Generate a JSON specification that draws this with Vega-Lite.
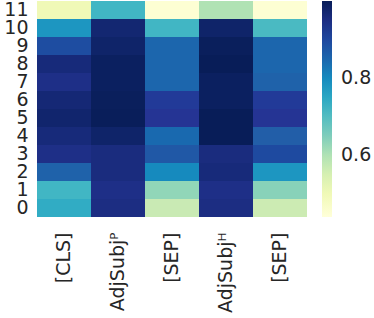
{
  "$schema": "https://vega.github.io/schema/vega-lite/v6.json",
  "width": 270,
  "height": 216,
  "padding": {"left": 3, "top": 0, "right": 0, "bottom": 0},
  "background": "white",
  "config": {"view": {"stroke": null}, "font": "DejaVu Sans"},
  "data": {"values": [
    {"layer": 11, "token": "a", "v": 0.50}, {"layer": 11, "token": "b", "v": 0.72}, {"layer": 11, "token": "c", "v": 0.45}, {"layer": 11, "token": "d", "v": 0.60}, {"layer": 11, "token": "e", "v": 0.45},
    {"layer": 10, "token": "a", "v": 0.78}, {"layer": 10, "token": "b", "v": 0.97}, {"layer": 10, "token": "c", "v": 0.72}, {"layer": 10, "token": "d", "v": 0.98}, {"layer": 10, "token": "e", "v": 0.71},
    {"layer": 9, "token": "a", "v": 0.89}, {"layer": 9, "token": "b", "v": 0.98}, {"layer": 9, "token": "c", "v": 0.85}, {"layer": 9, "token": "d", "v": 0.995}, {"layer": 9, "token": "e", "v": 0.85},
    {"layer": 8, "token": "a", "v": 0.96}, {"layer": 8, "token": "b", "v": 0.99}, {"layer": 8, "token": "c", "v": 0.85}, {"layer": 8, "token": "d", "v": 1.0}, {"layer": 8, "token": "e", "v": 0.85},
    {"layer": 7, "token": "a", "v": 0.945}, {"layer": 7, "token": "b", "v": 0.99}, {"layer": 7, "token": "c", "v": 0.85}, {"layer": 7, "token": "d", "v": 0.99}, {"layer": 7, "token": "e", "v": 0.855},
    {"layer": 6, "token": "a", "v": 0.965}, {"layer": 6, "token": "b", "v": 0.995}, {"layer": 6, "token": "c", "v": 0.92}, {"layer": 6, "token": "d", "v": 0.99}, {"layer": 6, "token": "e", "v": 0.92},
    {"layer": 5, "token": "a", "v": 0.975}, {"layer": 5, "token": "b", "v": 0.998}, {"layer": 5, "token": "c", "v": 0.93}, {"layer": 5, "token": "d", "v": 1.0}, {"layer": 5, "token": "e", "v": 0.93},
    {"layer": 4, "token": "a", "v": 0.96}, {"layer": 4, "token": "b", "v": 0.98}, {"layer": 4, "token": "c", "v": 0.845}, {"layer": 4, "token": "d", "v": 1.0}, {"layer": 4, "token": "e", "v": 0.86},
    {"layer": 3, "token": "a", "v": 0.945}, {"layer": 3, "token": "b", "v": 0.955}, {"layer": 3, "token": "c", "v": 0.87}, {"layer": 3, "token": "d", "v": 0.955}, {"layer": 3, "token": "e", "v": 0.895},
    {"layer": 2, "token": "a", "v": 0.855}, {"layer": 2, "token": "b", "v": 0.955}, {"layer": 2, "token": "c", "v": 0.80}, {"layer": 2, "token": "d", "v": 0.96}, {"layer": 2, "token": "e", "v": 0.78},
    {"layer": 1, "token": "a", "v": 0.72}, {"layer": 1, "token": "b", "v": 0.945}, {"layer": 1, "token": "c", "v": 0.63}, {"layer": 1, "token": "d", "v": 0.945}, {"layer": 1, "token": "e", "v": 0.64},
    {"layer": 0, "token": "a", "v": 0.74}, {"layer": 0, "token": "b", "v": 0.95}, {"layer": 0, "token": "c", "v": 0.575}, {"layer": 0, "token": "d", "v": 0.95}, {"layer": 0, "token": "e", "v": 0.57}
  ]},
  "mark": {"type": "rect"},
  "encoding": {
    "x": {
      "field": "token", "type": "nominal", "sort": ["a", "b", "c", "d", "e"],
      "title": null,
      "axis": {
        "domain": false, "ticks": false, "labelAngle": -90, "labelFontSize": 19, "labelColor": "#262626",
        "labelPadding": 15, "labelAlign": "right", "labelBaseline": "middle",
        "labelExpr": "datum.value == 'a' ? '[CLS]' : datum.value == 'b' ? 'AdjSubjᴾ' : datum.value == 'd' ? 'AdjSubjᴴ' : '[SEP]'"
      },
      "scale": {"paddingInner": 0, "paddingOuter": 0}
    },
    "y": {
      "field": "layer", "type": "ordinal", "sort": "descending", "title": null,
      "axis": {"domain": false, "ticks": false, "labelAngle": 0, "labelFontSize": 19, "labelColor": "#262626", "labelPadding": 9, "minExtent": 33, "maxExtent": 33, "labelOverlap": false},
      "scale": {"paddingInner": 0, "paddingOuter": 0}
    },
    "color": {
      "field": "v", "type": "quantitative",
      "scale": {
        "domain": [0.44, 0.51, 0.58, 0.65, 0.72, 0.79, 0.86, 0.93, 1.0],
        "range": ["#ffffd9", "#edf8b1", "#c7e9b4", "#7fcdbb", "#41b6c4", "#1d91c0", "#225ea8", "#253494", "#081d58"]
      },
      "legend": {
        "type": "gradient", "title": null, "values": [0.6, 0.8], "gradientLength": 216, "gradientThickness": 10,
        "labelFontSize": 19, "labelColor": "#262626", "offset": 15, "labelOffset": 9,
        "gradientStrokeWidth": 0, "padding": 0, "direction": "vertical"
      }
    }
  }
}
